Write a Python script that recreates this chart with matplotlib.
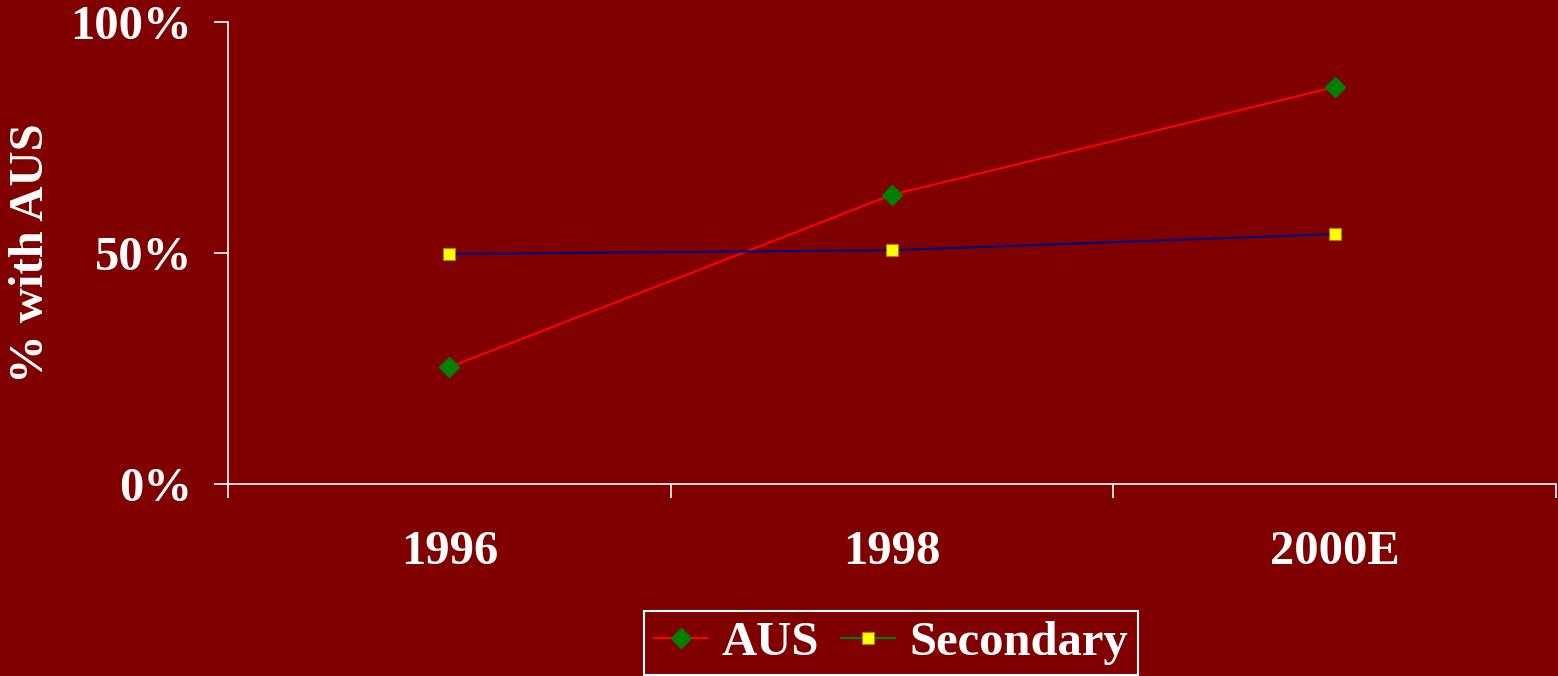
import matplotlib
matplotlib.use("Agg")
import matplotlib.pyplot as plt
from matplotlib.lines import Line2D
from matplotlib.ticker import FixedLocator, FuncFormatter

categories = ["1996", "1998", "2000E"]
aus = [25.3, 62.6, 85.9]
secondary = [49.8, 50.6, 54.1]
ytick_vals = [0, 50, 100]

BG = "#800000"
W, H = 1558, 676
fig = plt.figure(figsize=(W / 100, H / 100), dpi=100, facecolor=BG)
ax = fig.add_axes([228 / W, 1 - 484 / H, (1556 - 228) / W, (484 - 22) / H])
ax.set_facecolor(BG)

font = ["Liberation Serif", "DejaVu Serif"]
fs = 35

x = list(range(len(categories)))
ax.plot(x, aus, color="#ff0000", lw=1.5, marker="D", ms=10, mfc="#008000",
        mec="#008000", zorder=3)
ax.plot(x, secondary, color="#000080", lw=1.5, marker="s", ms=9, mfc="#ffff00",
        mec="#b08000", mew=0.8, zorder=3)

ax.set_xlim(-0.5, len(categories) - 0.5)
ax.set_ylim(0, 100)

for s in ["top", "right"]:
    ax.spines[s].set_visible(False)
for s in ["left", "bottom"]:
    ax.spines[s].set_color("white")
    ax.spines[s].set_linewidth(1.2)

ax.xaxis.set_major_locator(FixedLocator([i - 0.5 for i in range(len(categories) + 1)]))
ax.xaxis.set_major_formatter(FuncFormatter(lambda v, p: ""))
ax.xaxis.set_minor_locator(FixedLocator(x))
ax.xaxis.set_minor_formatter(FuncFormatter(lambda v, p: categories[int(round(v))]))
ax.tick_params(axis="x", which="major", direction="out", length=10, width=1.2, color="white")
ax.tick_params(axis="x", which="minor", length=0, pad=33, labelcolor="white")

ax.set_yticks(ytick_vals)
ax.set_yticklabels([f"{v}%" for v in ytick_vals])
ax.tick_params(axis="y", direction="out", length=10, width=1.2, color="white",
               pad=16, labelcolor="white")

for lab in ax.get_xticklabels(minor=True) + ax.get_yticklabels():
    lab.set_fontfamily(font)
    lab.set_fontweight("bold")
    lab.set_fontsize(fs)

ax.set_ylabel("% with AUS", family=font, fontweight="bold", fontsize=fs,
              color="white")
ax.yaxis.set_label_coords((53 - 228) / (1556 - 228), 0.5)

handles = [
    Line2D([], [], color="#ff0000", lw=1.5, marker="D", ms=10, mfc="#008000", mec="#008000"),
    Line2D([], [], color="#008000", lw=1.5, marker="s", ms=9, mfc="#ffff00", mec="#b08000", mew=0.8),
]
leg = fig.legend(handles, ["AUS", "Secondary"], loc="lower center",
                 bbox_to_anchor=(891 / W, 0.0), ncol=2, frameon=True, fancybox=False,
                 facecolor=BG, edgecolor="white", framealpha=1,
                 prop={"family": font, "weight": "bold", "size": fs},
                 handlelength=1.1, handletextpad=0.3, columnspacing=0.45,
                 borderpad=0.2, borderaxespad=0.03)
leg.get_frame().set_linewidth(1.5)
for t in leg.get_texts():
    t.set_color("white")

fig.savefig("out.png", dpi=100, facecolor=BG)
